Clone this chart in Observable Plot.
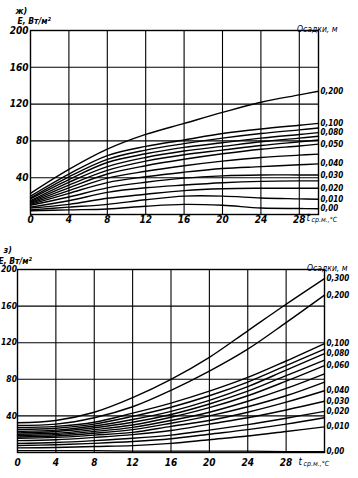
<!DOCTYPE html>
<html><head><meta charset="utf-8">
<script src="https://cdn.jsdelivr.net/npm/d3@7"></script>
<script src="https://cdn.jsdelivr.net/npm/@observablehq/plot@0.6"></script>
<style>
body{margin:0;background:#fff;}
#wrap{position:relative;width:358px;height:478px;overflow:hidden;background:#fff;}
#wrap svg{position:absolute;left:0;}
</style></head><body><div id="wrap"></div>
<script>
// ---------- panel ж) ----------
const topT = [0, 4, 8, 12, 16, 20, 24, 28, 30];
const top200 = [23, 49, 71, 87, 99, 111, 122, 130, 134];
const top100 = [20, 44, 64, 74, 81, 88, 93, 97, 99];
const top090 = [18, 41, 60, 70, 77, 83, 88, 92, 94];
const top080 = [17, 38, 56.5, 66, 73, 78, 83, 87, 89];
const top070 = [15, 35, 52, 62, 69, 74, 79, 83, 85];
const top060 = [14, 32, 48, 58, 65, 70, 75, 79, 81];
const top050 = [13, 29, 44, 53, 60, 66, 71, 74.5, 76.5];
const top045 = [12, 26, 39.5, 47, 53, 58, 62, 64.5, 65.6];
const top040 = [11, 23, 34.7, 41, 46, 50, 52, 54, 55];
const top030 = [10, 19, 29, 35, 39.5, 42, 43, 43, 43];
const top025 = [8, 15, 24, 29, 32, 34.5, 36, 36.5, 36.5];
const top020 = [7, 11, 17.6, 22, 26, 28, 28.5, 28.5, 28.5];
const top010 = [5, 8, 11, 16, 20, 20, 18, 17, 16.5];
const top000 = [4, 5, 6, 9, 11, 10, 7, 6.5, 6.3];
const topSeries = [top200, top100, top090, top080, top070, top060, top050, top045, top040, top030, top025, top020, top010, top000];
const topLabels = ["0,200", "0,100", "", "0,080", "", "", "0,050", "", "0,040", "0,030", "", "0,020", "0,010", "0,00"];

// ---------- panel з) ----------
const botT = [0, 4, 8, 12, 16, 20, 24, 28, 32];
const bot300 = [32.5, 35, 44, 60, 80, 104, 133, 162, 190];
const bot200 = [29.5, 31, 38, 50, 68, 89, 113, 142, 172];
const bot100 = [27, 28.5, 33, 43, 54, 67, 82, 100, 119];
const bot090 = [25, 26.5, 31, 39.5, 49.5, 62, 77, 95, 113];
const bot080 = [23, 24.5, 29, 36, 45, 57, 72, 90, 108];
const bot070 = [21.5, 23, 27, 33, 41.5, 53, 67, 84, 101];
const bot060 = [20, 21, 25, 30, 38.5, 49, 62, 78, 95];
const bot050 = [18.6, 19.5, 23, 27.5, 35, 44, 56, 70, 86];
const bot045 = [17, 18, 21, 25, 32, 40, 50, 62, 77];
const bot040 = [15.6, 16.5, 19, 22, 28.5, 35, 44, 55, 67.5];
const bot030 = [13, 14, 16.5, 19.5, 24, 31, 38, 46.5, 56];
const bot020 = [10, 11, 13, 15.5, 19, 24.5, 30.5, 37.5, 45];
const bot015 = [7.6, 8.5, 10, 12, 15, 20, 25, 31, 38];
const bot010 = [5, 5.5, 6.5, 7.5, 10, 14, 18, 23, 28];
const bot000 = [2, 2, 2, 1.5, 1.5, 1.5, 1.5, 1, 1];
const botSeries = [bot300, bot200, bot100, bot090, bot080, bot070, bot060, bot050, bot045, bot040, bot030, bot020, bot015, bot010, bot000];
const botLabels = ["0,300", "0,200", "0,100", "", "0,080", "", "0,060", "", "", "0,040", "0,030", "0,020", "", "0,010", "0,00"];

// ticks
const xTicks = [0, 4, 8, 12, 16, 20, 24, 28];
const xGrid = [4, 8, 12, 16, 20, 24, 28];
const yTicks = [40, 80, 120, 160, 200];
const yGrid = [40, 80, 120, 160];

const FONT = "'Liberation Sans Narrow','DejaVu Sans Condensed','Liberation Sans',sans-serif";

function rowsOf(ts, series, labels) {
  const rows = [];
  series.forEach((vals, i) => vals.forEach((v, j) => rows.push({t: ts[j], E: v, s: i, label: labels[i], last: j === vals.length - 1})));
  return rows;
}

function panel(o) {
  const rows = rowsOf(o.ts, o.series, o.labels);
  return Plot.plot({
    width: 358, height: o.height,
    marginTop: o.mt, marginLeft: o.ml, marginRight: o.mr, marginBottom: o.mb,
    x: {domain: o.xdom}, y: {domain: [0, 200]},
    style: {fontFamily: FONT, fontStyle: "italic", fontSize: "10px", color: "black", background: "transparent"},
    marks: [
      Plot.gridX(xGrid, {stroke: "black", strokeOpacity: 1, strokeWidth: 1.1}),
      Plot.gridY(yGrid, {stroke: "black", strokeOpacity: 1, strokeWidth: 1.1}),
      Plot.frame({stroke: "black", strokeWidth: 1.4}),
      Plot.axisY(yTicks, {tickSize: 0, tickPadding: o.yPad, label: null, fontSize: o.yFont, fontWeight: "bold"}),
      Plot.axisX(xTicks, {tickSize: 0, tickPadding: o.xPad, label: null, fontSize: 10, fontWeight: "bold"}),
      Plot.line(rows, {x: "t", y: "E", z: "s", curve: "catmull-rom", stroke: "black", strokeWidth: 1.4}),
      Plot.text(rows.filter(d => d.last && d.label), {x: "t", y: "E", text: "label", dx: 2, textAnchor: "start", fontSize: 8, fontWeight: "bold"}),
      Plot.text([o.letter], {frameAnchor: "top-left", dx: o.letterDx, dy: o.letterDy, textAnchor: "start", fontSize: 9, fontWeight: "bold"}),
      Plot.text(["E, Вт/м²"], {frameAnchor: "top-left", dx: o.eDx, dy: o.eDy, textAnchor: "start", fontSize: 8.5, fontWeight: "bold"}),
      Plot.text(["Осадки, м"], {frameAnchor: "top-right", dx: o.oDx, dy: o.oDy, textAnchor: "end", fontSize: 8.5}),
      Plot.text(["t"], {frameAnchor: "bottom-right", dx: o.tDx, dy: o.tDy, textAnchor: "start", fontSize: 10}),
      Plot.text(["ср.м.,°C"], {frameAnchor: "bottom-right", dx: o.tDx + 5, dy: o.tDy + 1.5, textAnchor: "start", fontSize: 7})
    ]
  });
}

const wrap = document.getElementById("wrap");
const p1 = panel({ts: topT, series: topSeries, labels: topLabels, height: 232, mt: 30, ml: 30, mr: 40, mb: 18, xdom: [0, 30],
  yPad: 2, yFont: 10, xPad: 1, letter: "ж)", letterDx: -15, letterDy: -23, eDx: -13, eDy: -12.5, oDx: 19, oDy: -5, tDx: -12, tDy: 6});
p1.style.top = "0px";
wrap.appendChild(p1);
const p2 = panel({ts: botT, series: botSeries, labels: botLabels, height: 246, mt: 37, ml: 17, mr: 34, mb: 26, xdom: [0, 32],
  yPad: 0.5, yFont: 8.5, xPad: 6, letter: "з)", letterDx: -14, letterDy: -23, eDx: -19, eDy: -12, oDx: 23, oDy: -4.5, tDx: -26, tDy: 12});
p2.style.top = "232px";
wrap.appendChild(p2);
</script></body></html>
